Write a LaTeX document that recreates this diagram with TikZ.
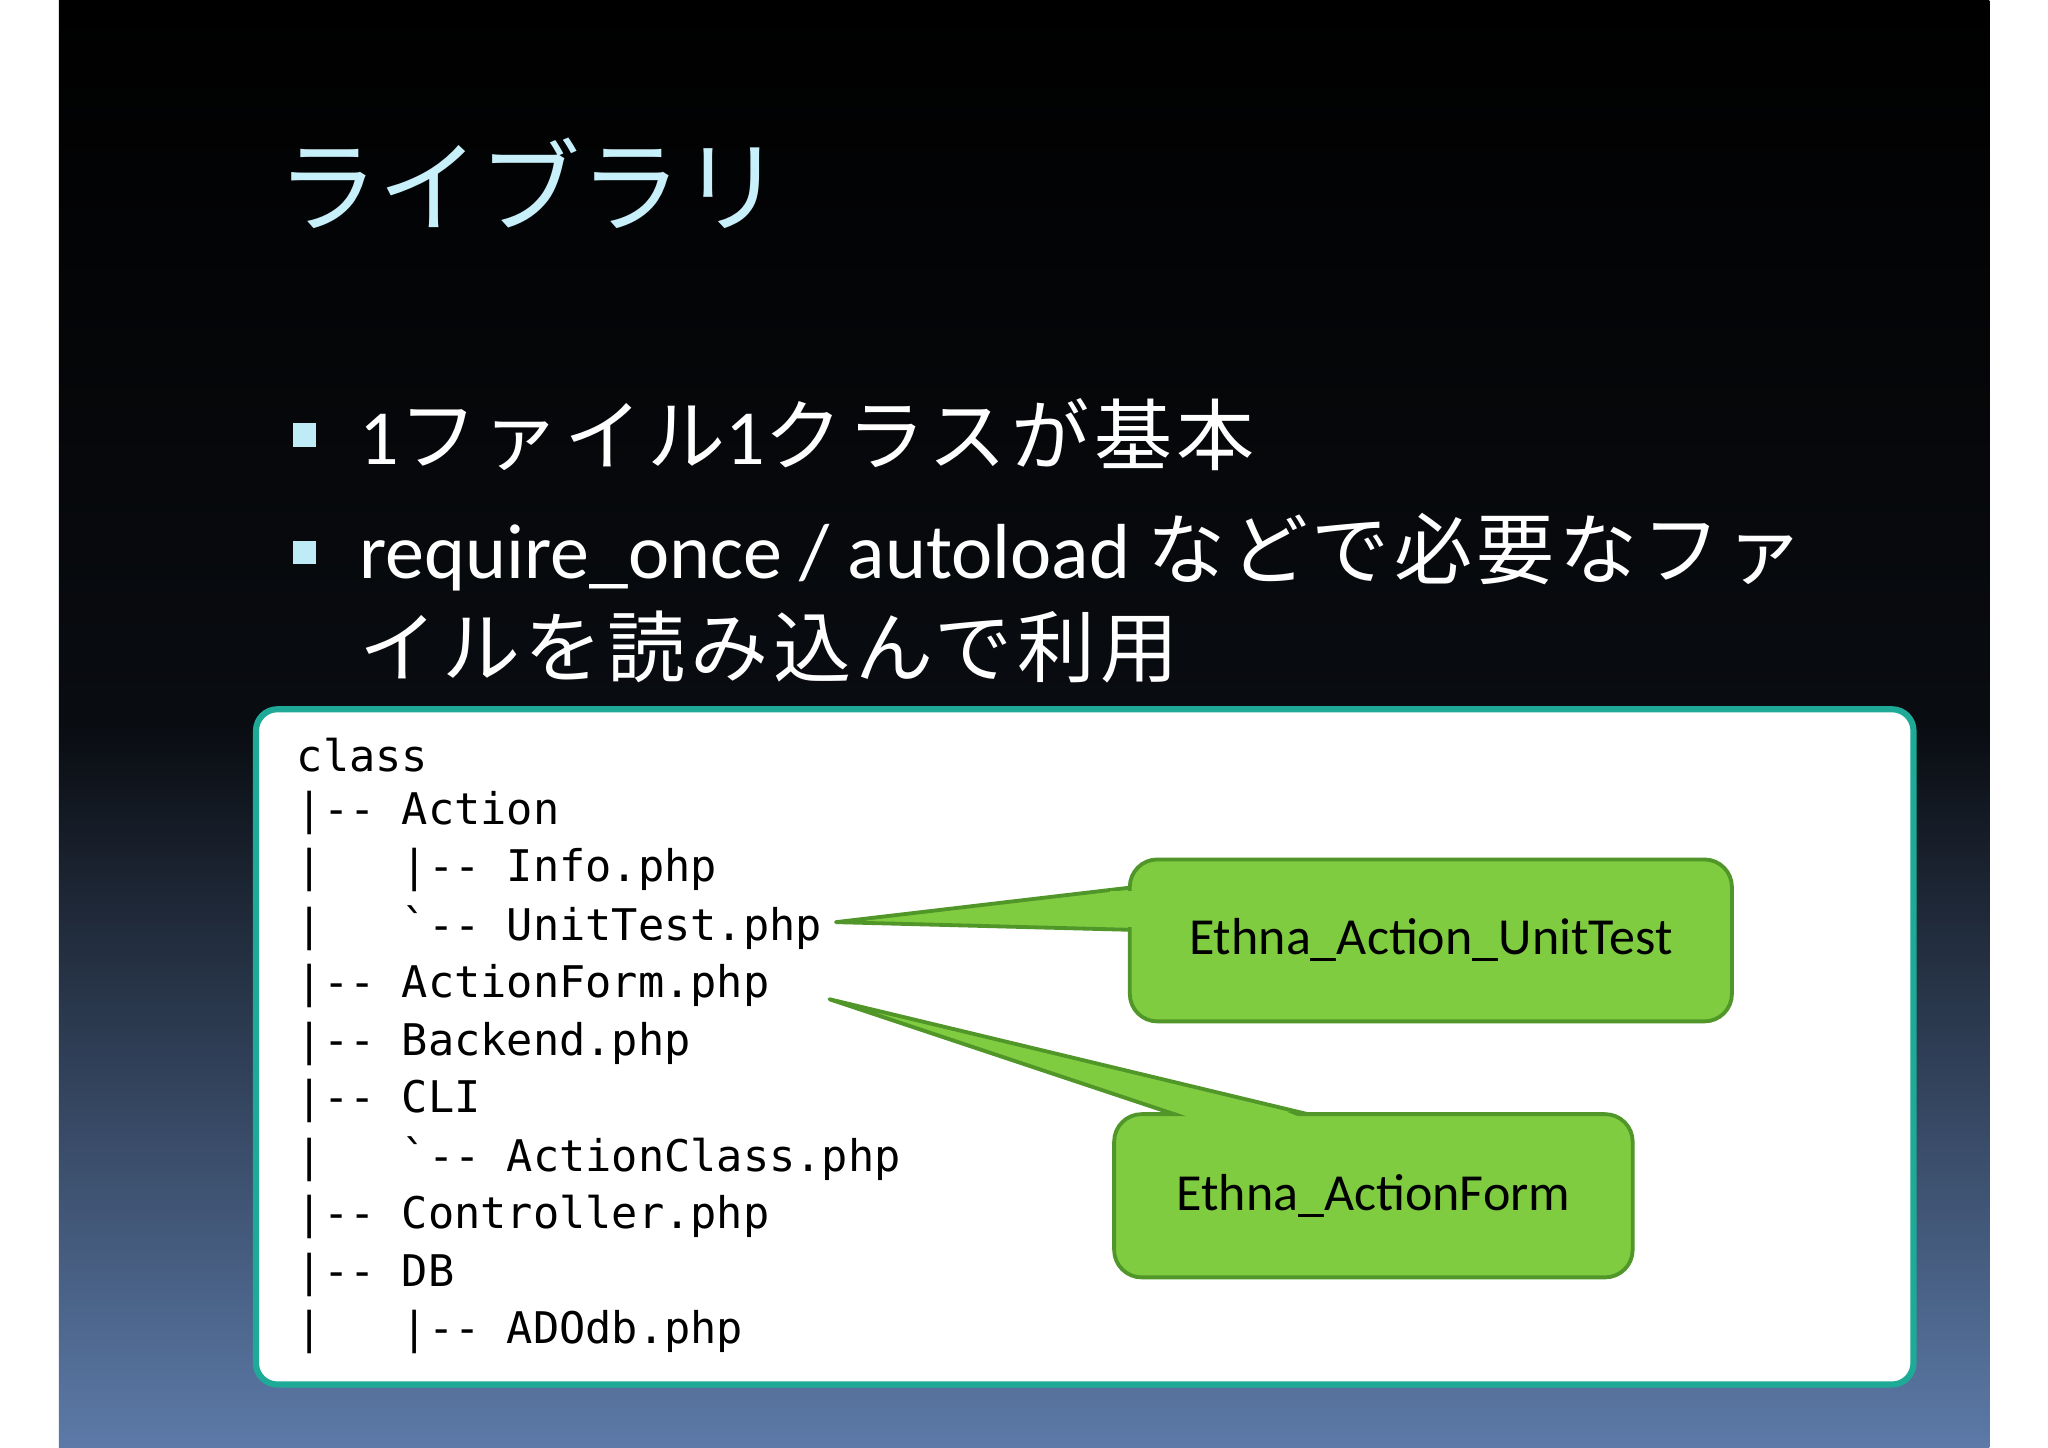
\documentclass[tikz,border=0pt]{standalone}
\usepackage{fontspec}
\setmainfont{Carlito}
\newfontfamily\cjk{Noto Sans CJK JP}
\newfontfamily\codefont{DejaVu Sans Mono}
\definecolor{titlec}{RGB}{200,240,250}
\definecolor{bulc}{RGB}{190,235,245}
\definecolor{slidebot}{RGB}{92,122,168}
\definecolor{teal}{RGB}{30,170,150}
\definecolor{callg}{RGB}{128,204,64}
\definecolor{callb}{RGB}{80,150,40}
\tikzset{
 code/.style={anchor=west,inner sep=0pt,font=\codefont\fontsize{28.5}{30}\selectfont,text=black},
 bul/.style={anchor=west,inner sep=0pt,text=white,font=\fontsize{51}{56}\selectfont},
 callout/.style={fill=callg,draw=callb,line width=2.5pt,line join=round},
 sq/.style={fill=bulc,draw=none}
}
\begin{document}
\begin{tikzpicture}[x=0.03cm,y=-0.03cm]
\useasboundingbox (0,0) rectangle (1568,1108);
\fill[white] (0,0) rectangle (1568,1108);
\shade[top color=black,bottom color=slidebot,middle color=black!90!slidebot] (45,0) rectangle (1523,1108);
\node[anchor=west,inner sep=0pt,text=titlec,font=\cjk\fontsize{66}{70}\selectfont] (title) at (212,140) {ライブラリ};
\fill[sq] (224,324) rectangle (242,342);
\fill[sq] (224,414) rectangle (242,432);
\node[bul] (b1) at (275,333) {1{\cjk\addfontfeature{LetterSpace=6} ファイル}1{\cjk\addfontfeature{LetterSpace=6} クラスが基本}};
\node[bul] (b2) at (275,423) {require\_once / autoload {\cjk\addfontfeature{LetterSpace=6} などで必要なファ}};
\node[bul] (b3) at (275,495) {\cjk\addfontfeature{LetterSpace=6} イルを読み込んで利用};
\draw[teal,line width=4pt,fill=white,rounded corners=14] (196,543) rectangle (1465,1060);
\foreach \t [count=\i] in {class,{|-- Action},{|\ \ \ |-- Info.php},{|\ \ \ `-- UnitTest.php},{|-- ActionForm.php},{|-- Backend.php},{|-- CLI},{|\ \ \ `-- ActionClass.php},{|-- Controller.php},{|-- DB},{|\ \ \ |-- ADOdb.php}}
  \node[code] (l\i) at (227,{578+44.2*(\i-1)}) {\t};
% callout 1
\coordinate (t1) at (640,706);
\draw[callout] (t1) -- (870,679) -- (870,712) -- cycle;
\draw[callout,rounded corners=18] (865,658) rectangle (1326,782) node[midway,inner sep=0pt,font=\fontsize{34}{38}\selectfont] (c1) {Ethna\_Action\_UnitTest};
\fill[callg] (850,682) -- (872,682) -- (872,709.5) -- (850,709.5) -- cycle;
% callout 2
\coordinate (t2) at (635,765);
\draw[callout] (t2) -- (1022,858) -- (914,858) -- cycle;
\draw[callout,rounded corners=18] (853,853) rectangle (1250,978) node[midway,inner sep=0pt,font=\fontsize{34}{38}\selectfont] (c2) {Ethna\_ActionForm};
\fill[callg] (899,851.2) -- (985,851.2) -- (996,855.5) -- (911,855.5) -- cycle;
\end{tikzpicture}
\end{document}
